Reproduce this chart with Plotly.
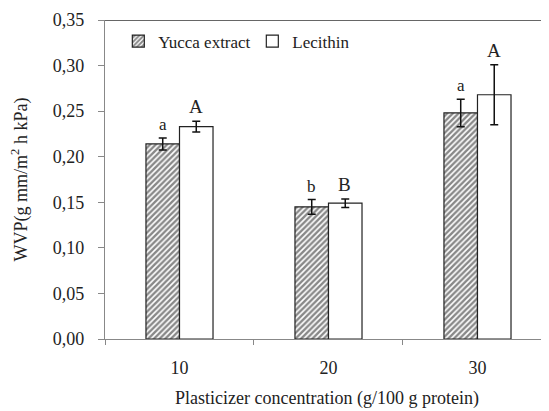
import plotly.graph_objects as go

categories = ["10", "20", "30"]
yucca_values = [0.214, 0.145, 0.248]
yucca_errors = [0.0066, 0.008, 0.015]
lecithin_values = [0.233, 0.149, 0.268]
lecithin_errors = [0.006, 0.0046, 0.033]
yucca_letters = ["a", "b", "a"]
lecithin_letters = ["A", "B", "A"]
y_ticks = [0.0, 0.05, 0.10, 0.15, 0.20, 0.25, 0.30, 0.35]

FONT = "Liberation Serif"
TXT = "#222222"

fig = go.Figure()
fig.add_trace(go.Bar(
    name="Yucca extract", x=categories, y=yucca_values,
    marker=dict(color="white", line=dict(color="#222", width=1.2),
                pattern=dict(shape="/", fgcolor="#111", bgcolor="white", size=4, solidity=0.6)),
    error_y=dict(type="data", array=yucca_errors, color="#111", thickness=1.5, width=4),
))
fig.add_trace(go.Bar(
    name="Lecithin", x=categories, y=lecithin_values,
    marker=dict(color="white", line=dict(color="#222", width=1.2)),
    error_y=dict(type="data", array=lecithin_errors, color="#111", thickness=1.5, width=4),
))

annotations = []
for i, c in enumerate(categories):
    annotations.append(dict(x=i, y=yucca_values[i] + yucca_errors[i], text=yucca_letters[i],
                            xref="x", yref="y", showarrow=False, yanchor="bottom",
                            xshift=-16.5, yshift=2, font=dict(family=FONT, size=17, color=TXT)))
    annotations.append(dict(x=i, y=lecithin_values[i] + lecithin_errors[i], text=lecithin_letters[i],
                            xref="x", yref="y", showarrow=False, yanchor="bottom",
                            xshift=16.5, yshift=2, font=dict(family=FONT, size=19, color=TXT)))

fig.update_layout(
    width=549, height=411,
    margin=dict(l=97, r=8, t=12, b=80),
    paper_bgcolor="white", plot_bgcolor="white",
    separators=", ",
    barmode="group", bargap=0.55, bargroupgap=0,
    font=dict(family=FONT, size=18, color=TXT),
    showlegend=True,
    legend=dict(orientation="h", x=0.03, y=0.989, xanchor="left", yanchor="top",
                font=dict(family=FONT, size=17, color=TXT), bgcolor="rgba(0,0,0,0)",
                itemwidth=30, tracegroupgap=0, entrywidth=89),
    annotations=annotations,
    shapes=[dict(type="line", xref="paper", yref="y", x0=0, x1=1, y0=0.35, y1=0.35,
                 line=dict(color="#333", width=1.5))],
    xaxis=dict(
        type="category", range=[-0.5, 2.48], automargin=False,
        showline=True, linecolor="#888", linewidth=1.2,
        ticks="outside", tickson="boundaries", ticklen=5, tickcolor="#888",
        showgrid=False, zeroline=False, ticklabelstandoff=12,
        tickfont=dict(family=FONT, size=18, color=TXT),
        title=dict(text="Plasticizer concentration (g/100 g protein)",
                   font=dict(family=FONT, size=18, color=TXT), standoff=14),
    ),
    yaxis=dict(
        range=[0, 0.35], tickvals=y_ticks, tickformat=".2f", automargin=False,
        showline=True, linecolor="#888", linewidth=1.2,
        ticks="outside", ticklen=6, tickcolor="#888",
        showgrid=False, zeroline=False,
        ticklabelstandoff=10,
        tickfont=dict(family=FONT, size=18, color=TXT),
        title=dict(text="WVP(g mm/m<sup>2</sup> h kPa)",
                   font=dict(family=FONT, size=18, color=TXT), standoff=20),
    ),
)

fig.write_html("out.html")
